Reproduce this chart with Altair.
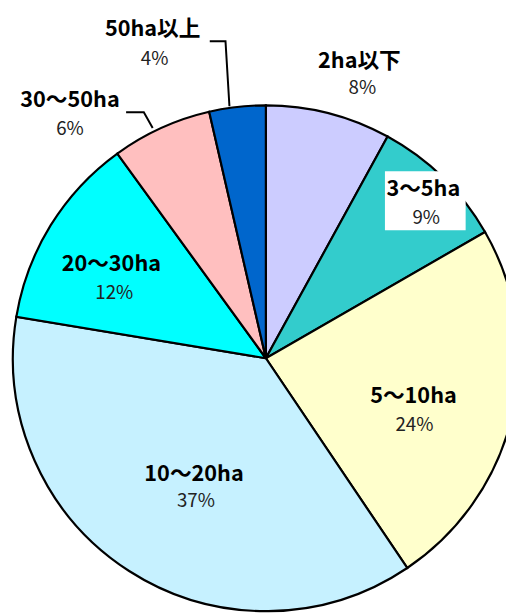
import altair as alt
import pandas as pd

# ---- data ----
categories = ["2ha以下", "3～5ha", "5～10ha", "10～20ha", "20～30ha", "30～50ha", "50ha以上"]
shares = [8.0, 8.7, 23.9, 37.1, 12.4, 6.4, 3.6]
pct_labels = ["8%", "9%", "24%", "37%", "12%", "6%", "4%"]

# ---- style / layout ----
colors = ["#CCCCFF", "#33CCCC", "#FFFFCC", "#C6F1FF", "#00FFFF", "#FFBFBF", "#0066CC"]
W, H = 506, 607
CX, CY, R = 262, 351, 257
name_pos = [(357, 49), (422, 179), (412, 389), (189, 469), (105, 255), (63, 89), (147, 17)]
pct_pos = [(360, 77), (425, 209), (413, 419), (191, 496), (108, 285), (63, 118), (149, 47)]
leaders = [
    [(205, 29), (221, 29), (225, 95)],
    [(120, 101), (138, 101), (147, 117)],
]
box = (383, 161, 465, 221)

pie_df = pd.DataFrame({"cat": categories, "share": shares, "idx": list(range(len(categories)))})
lab_df = pd.DataFrame({
    "name": categories,
    "pct": pct_labels,
    "nx": [p[0] for p in name_pos], "ny": [p[1] for p in name_pos],
    "px": [p[0] for p in pct_pos], "py": [p[1] for p in pct_pos],
})
lead_rows = []
for g, pts in enumerate(leaders):
    for k, (x, y) in enumerate(pts):
        lead_rows.append({"g": g, "k": k, "x": x, "y": y})
lead_df = pd.DataFrame(lead_rows)
box_df = pd.DataFrame({"x": [box[0]], "y": [box[1]], "x2": [box[2]], "y2": [box[3]]})

pie = alt.Chart(pie_df).mark_arc(radius=R, stroke="black", strokeWidth=2.2).encode(
    theta=alt.Theta("share:Q", stack=True),
    order=alt.Order("idx:Q"),
    color=alt.Color("cat:N", scale=alt.Scale(domain=categories, range=colors), legend=None),
    x=alt.value(CX),
    y=alt.value(CY),
)

boxl = alt.Chart(box_df).mark_rect(color="white").encode(
    x=alt.X("x:Q", scale=None, axis=None), x2="x2:Q",
    y=alt.Y("y:Q", scale=None, axis=None), y2="y2:Q",
)

lines = alt.Chart(lead_df).mark_line(color="black", strokeWidth=2).encode(
    x=alt.X("x:Q", scale=None, axis=None),
    y=alt.Y("y:Q", scale=None, axis=None),
    detail="g:N",
    order="k:Q",
)

names = alt.Chart(lab_df).mark_text(
    font="Noto Sans CJK JP", fontSize=22, fontWeight="bold", color="black",
    align="center", baseline="middle",
).encode(
    x=alt.X("nx:Q", scale=None, axis=None),
    y=alt.Y("ny:Q", scale=None, axis=None),
    text="name:N",
)

pcts = alt.Chart(lab_df).mark_text(
    font="Noto Sans CJK JP", fontSize=19, color="#222222",
    align="center", baseline="middle",
).encode(
    x=alt.X("px:Q", scale=None, axis=None),
    y=alt.Y("py:Q", scale=None, axis=None),
    text="pct:N",
)

chart = alt.layer(pie, boxl, lines, names, pcts).properties(
    width=W, height=H, autosize="none", padding=0, background="white",
).configure_view(stroke=None)

chart.save("out.html", embed_options={"renderer": "svg", "actions": False})
